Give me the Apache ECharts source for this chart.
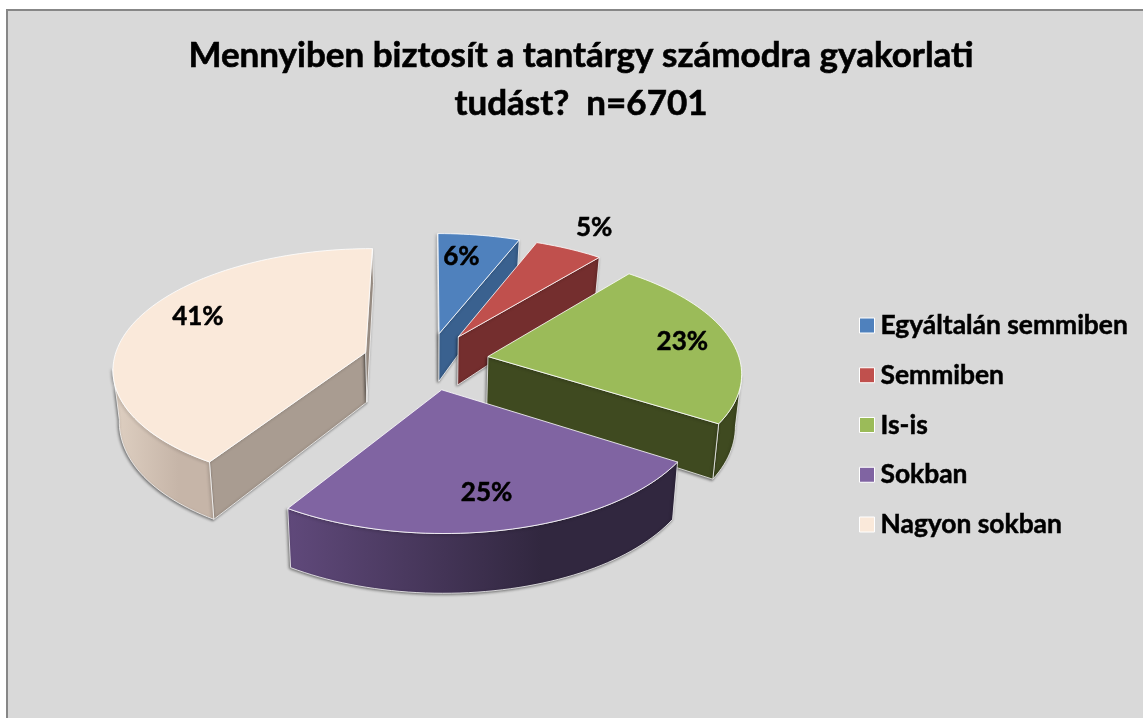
<!DOCTYPE html>
<html>
<head>
<meta charset="utf-8">
<title>Mennyiben biztosít a tantárgy számodra gyakorlati tudást?</title>
<script src="https://cdn.jsdelivr.net/npm/echarts@6/dist/echarts.min.js"></script>
<style>
  html, body { margin: 0; padding: 0; background: #fff; overflow: hidden; }
  #panel {
    position: absolute; left: 6px; top: 9px; width: 1143px; height: 718px;
    background: #d9d9d9; border-left: 2px solid #878787; border-top: 2px solid #878787;
  }
  #main { position: absolute; left: 0; top: 0; width: 1143px; height: 718px; }
</style>
</head>
<body>
<div id="panel"></div>
<div id="main"></div>
<script>
const categories = ['Egyáltalán semmiben', 'Semmiben', 'Is-is', 'Sokban', 'Nagyon sokban'];
const values = [6, 5, 23, 25, 41];
const titleText = 'Mennyiben biztosít a tantárgy számodra gyakorlati\ntudást?  n=6701';

const topColors = ['#4f81bd', '#c0504d', '#9bbb59', '#8064a2', '#fae9da'];
const cutColors = ['#3a618f', '#742e2e', '#3f4a20', '#3a2e4a', '#a99c91'];
const outerColors = [
  ['#3a618f', '#3a618f'],
  ['#742e2e', '#742e2e'],
  ['#3f4a20', '#3f4a20'],
  ['#60497b', '#31273f'],
  ['#dfd0c2', '#c6b5a8']
];
// how far each slice is pulled out of the pie
const explode = [0.242, 0.242, 0.242, 0.242, 0.26];
// label place inside each slice: radius fraction, angle shift in degrees
const labelRadius = [0.76, 1.27, 0.8, 0.756, 0.775];
const labelShift = [-3, -0.3, 0, 1, 8];
// back to front
const drawOrder = [0, 1, 2, 4, 3];

// the projection of the tilted pie
const CX = 428, CY = 361, RX = 252, RY = 118.5, PERSP = 0.122;

function project(u, v) {
  const s = 1 / (1 + PERSP * v);
  return [CX + RX * u * s, CY - RY * v * s];
}
function dropped(u, v) {
  const p = project(u, v);
  const depth = 50.5 - 11.2 * v - 3 * v * v;
  return [CX + (p[0] - CX) * 0.98, p[1] + depth];
}
function sliceStart(i) {
  let sum = 0;
  for (let k = 0; k < i; k++) sum += values[k];
  return sum;
}
const total = values.reduce((a, b) => a + b, 0);

function renderSlice(i, params, api) {
  const val = api.value(0);
  const a0 = sliceStart(i) / total * Math.PI * 2;
  const a1 = a0 + val / total * Math.PI * 2;
  const mid = (a0 + a1) / 2;
  const ou = explode[i] * Math.sin(mid), ov = explode[i] * Math.cos(mid);

  const arc = [];
  const steps = Math.max(4, Math.ceil((a1 - a0) / 0.03));
  for (let k = 0; k <= steps; k++) {
    const a = a0 + (a1 - a0) * k / steps;
    arc.push([ou + Math.sin(a), ov + Math.cos(a)]);
  }
  const first = arc[0], last = arc[arc.length - 1];
  const children = [];
  const wallStyle = (fill) => ({
    fill: fill,
    stroke: 'rgba(255,255,255,0.75)',
    lineWidth: 1,
    shadowBlur: 3,
    shadowColor: 'rgba(0,0,0,0.5)',
    shadowOffsetX: -1,
    shadowOffsetY: 1
  });
  const cutWall = (p, q) => {
    const a = project(p[0], p[1]), b = project(q[0], q[1]);
    if (b[0] >= a[0]) return;
    children.push({
      type: 'polygon',
      shape: { points: [a, b, dropped(q[0], q[1]), dropped(p[0], p[1])] },
      style: wallStyle(cutColors[i])
    });
  };

  // the walls that face the viewer, edge going right to left on screen
  cutWall([ou, ov], first);

  const front = [];
  for (let k = 0; k < arc.length - 1; k++) {
    const a = project(arc[k][0], arc[k][1]), b = project(arc[k + 1][0], arc[k + 1][1]);
    if (b[0] < a[0]) {
      if (!front.length) front.push(arc[k]);
      front.push(arc[k + 1]);
    }
  }
  if (front.length > 1) {
    const upper = front.map((p) => project(p[0], p[1]));
    const lower = front.map((p) => dropped(p[0], p[1])).reverse();
    children.push({
      type: 'polygon',
      shape: { points: upper.concat(lower) },
      style: wallStyle({
        type: 'linear', x: 0, y: 0, x2: 1, y2: 0,
        colorStops: [
          { offset: 0, color: outerColors[i][0] },
          { offset: 0.65, color: outerColors[i][1] },
          { offset: 1, color: outerColors[i][1] }
        ]
      })
    });
  }
  cutWall(last, [ou, ov]);

  // top face
  const topPoints = [project(ou, ov)].concat(arc.map((p) => project(p[0], p[1])));
  children.push({
    type: 'polygon',
    shape: { points: topPoints },
    style: { fill: topColors[i], stroke: 'rgba(255,255,255,0.8)', lineWidth: 1 }
  });

  const la = mid + labelShift[i] * Math.PI / 180;
  const lp = project(ou + labelRadius[i] * Math.sin(la), ov + labelRadius[i] * Math.cos(la));
  children.push({
    type: 'text',
    style: {
      text: val + '%',
      x: lp[0],
      y: lp[1],
      align: 'center',
      verticalAlign: 'middle',
      fill: '#000',
      stroke: '#000',
      lineWidth: 0.5,
      fontFamily: 'Lato',
      fontWeight: 'bold',
      fontSize: 26
    }
  });
  return { type: 'group', children: children };
}

const chart = echarts.init(document.getElementById('main'));
chart.setOption({
  animation: false,
  backgroundColor: 'transparent',
  title: {
    text: titleText,
    left: 576,
    top: 27,
    textAlign: 'center',
    textStyle: {
      fontFamily: 'Lato', fontWeight: 'bold', fontSize: 35, lineHeight: 48, color: '#000',
      textBorderColor: '#000', textBorderWidth: 0.6
    }
  },
  legend: {
    orient: 'vertical',
    left: 854,
    top: 307,
    icon: 'rect',
    itemWidth: 15,
    itemHeight: 15,
    itemGap: 22.75,
    data: categories,
    itemStyle: { borderColor: '#fff', borderWidth: 1 },
    textStyle: {
      fontFamily: 'Lato', fontWeight: 'bold', fontSize: 26.4, lineHeight: 27, color: '#000',
      textBorderColor: '#000', textBorderWidth: 0.5, padding: [0, 0, 0, 1]
    }
  },
  series: drawOrder.map((i) => ({
    type: 'custom',
    name: categories[i],
    coordinateSystem: 'none',
    itemStyle: { color: topColors[i] },
    renderItem: (params, api) => renderSlice(i, params, api),
    data: [{ name: categories[i], value: [values[i]] }]
  }))
});
</script>
</body>
</html>
